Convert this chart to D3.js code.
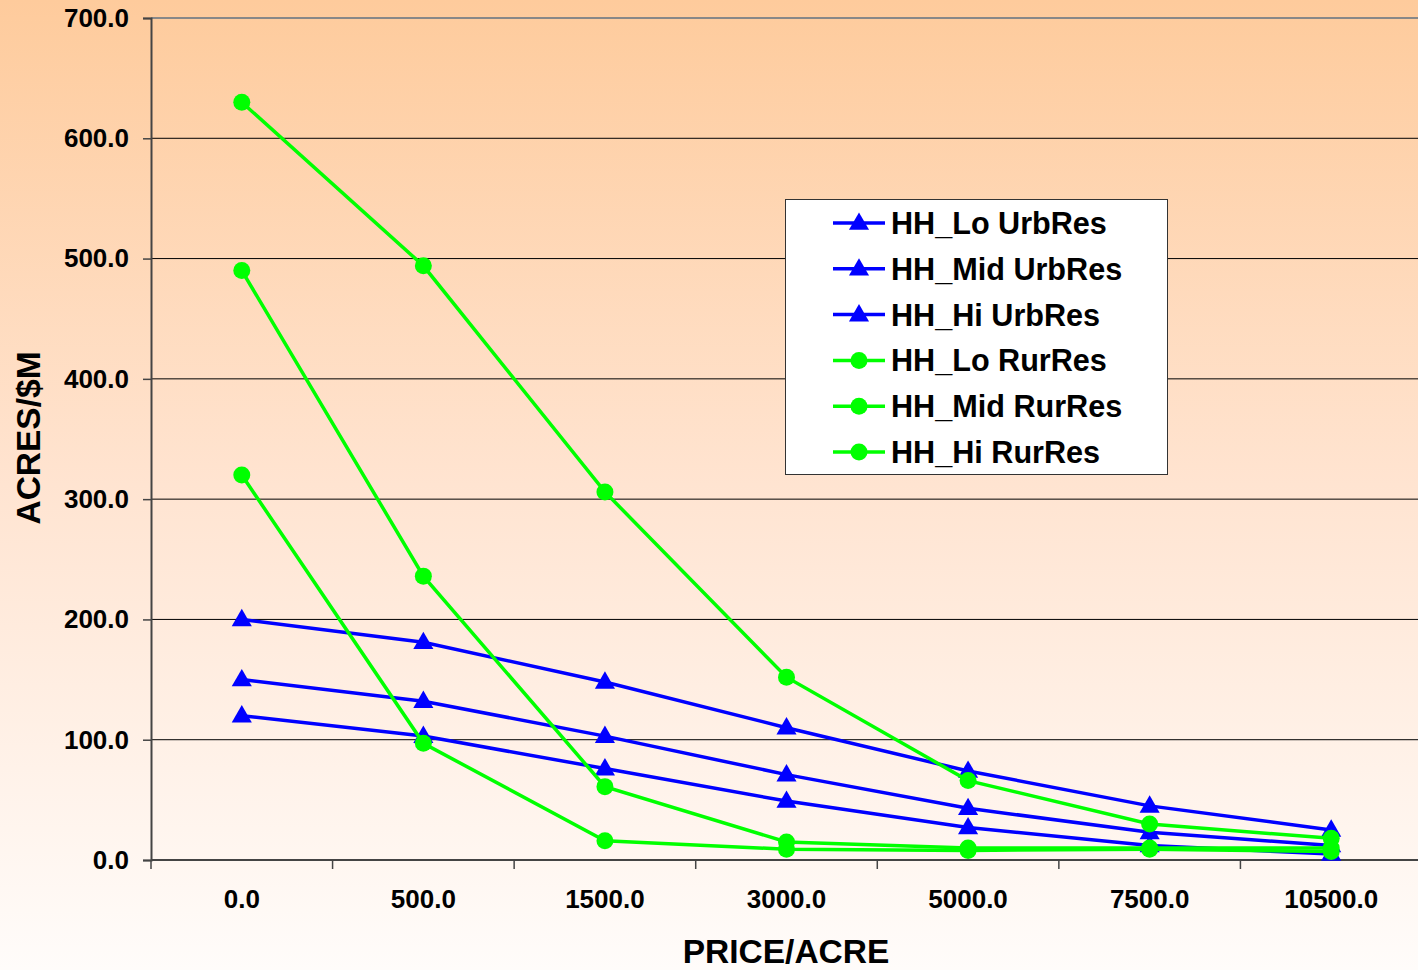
<!DOCTYPE html>
<html>
<head>
<meta charset="utf-8">
<script src="https://cdn.jsdelivr.net/npm/d3@7"></script>
<style>
  html, body { margin: 0; padding: 0; background: #fff; }
  svg { display: block; font-family: "Liberation Sans", Arial, sans-serif; }
</style>
</head>
<body>
<svg id="chart" width="1418" height="970"></svg>
<script>
// Price per acre categories (x axis)
const prices = ["0.0", "500.0", "1500.0", "3000.0", "5000.0", "7500.0", "10500.0"];
const yTicks = [0, 100, 200, 300, 400, 500, 600, 700];

// Acres per $M, urban residential households
const hhLoUrb  = [200, 181, 148, 110, 74, 45, 25];
const hhMidUrb = [150, 132, 103, 71, 43, 23, 12];
const hhHiUrb  = [120, 103, 76, 49, 27, 12, 5];

// Acres per $M, rural residential households
const hhLoRur  = [630, 494, 306, 152, 66, 30, 18];
const hhMidRur = [490, 236, 61, 15, 10, 10, 10];
const hhHiRur  = [320, 97, 16, 9, 8, 9, 7];

const seriesNames = ["HH_Lo UrbRes", "HH_Mid UrbRes", "HH_Hi UrbRes",
                     "HH_Lo RurRes", "HH_Mid RurRes", "HH_Hi RurRes"];
const seriesValues = [hhLoUrb, hhMidUrb, hhHiUrb, hhLoRur, hhMidRur, hhHiRur];
const seriesKinds = ["tri", "tri", "tri", "dot", "dot", "dot"];

const BLUE = "#0000ff", GREEN = "#00ff00";

const svg = d3.select("#chart");
const W = 1418, H = 970;

// page background gradient
const defs = svg.append("defs");
const grad = defs.append("linearGradient").attr("id", "bg")
  .attr("x1", 0).attr("y1", 0).attr("x2", 0).attr("y2", 1);
grad.append("stop").attr("offset", "0%").attr("stop-color", "#fecb9c");
grad.append("stop").attr("offset", "50%").attr("stop-color", "#ffe4d1");
grad.append("stop").attr("offset", "100%").attr("stop-color", "#fffcfa");
svg.append("rect").attr("width", W).attr("height", H).attr("fill", "url(#bg)");

const plot = { left: 151, top: 18, right: 1422, bottom: 860 };

const x = d3.scaleBand().domain(prices).range([plot.left, plot.right]);
const y = d3.scaleLinear().domain([0, 700]).range([plot.bottom, plot.top]);
const xc = d => x(d) + x.bandwidth() / 2;

// horizontal gridlines
svg.append("g").selectAll("line").data(yTicks.filter(v => v > 0 && v < 700)).join("line")
  .attr("x1", plot.left).attr("x2", W)
  .attr("y1", d => y(d)).attr("y2", d => y(d))
  .attr("stroke", "#000").attr("stroke-width", 1);
// top border of plot area
svg.append("line").attr("x1", plot.left).attr("x2", W)
  .attr("y1", y(700)).attr("y2", y(700))
  .attr("stroke", "#888").attr("stroke-width", 2);

// y axis
const yAxis = svg.append("g").attr("transform", `translate(${plot.left},0)`)
  .call(d3.axisLeft(y).tickValues(yTicks).tickFormat(d3.format(".1f")).tickSize(8).tickPadding(14));
yAxis.select(".domain").attr("stroke", "#444").attr("stroke-width", 2);
yAxis.selectAll(".tick line").attr("stroke", "#444").attr("stroke-width", 1.5);
yAxis.selectAll("text").attr("font-size", 26).attr("font-weight", "bold").attr("fill", "#000")
  .attr("font-family", "Liberation Sans, Arial, sans-serif");

// x axis: ticks at category boundaries
const xAxisG = svg.append("g").attr("transform", `translate(0,${plot.bottom})`);
xAxisG.append("line").attr("x1", plot.left).attr("x2", W)
  .attr("y1", 0).attr("y2", 0).attr("stroke", "#444").attr("stroke-width", 2);
const boundaries = prices.map(p => x(p)).concat([plot.right]);
xAxisG.selectAll("line.tk").data(boundaries).join("line").attr("class", "tk")
  .attr("x1", d => d).attr("x2", d => d).attr("y1", 0).attr("y2", 9)
  .attr("stroke", "#444").attr("stroke-width", 1.5);
xAxisG.selectAll("text").data(prices).join("text")
  .attr("x", d => xc(d)).attr("y", 48)
  .attr("text-anchor", "middle")
  .attr("font-size", 26).attr("font-weight", "bold").attr("fill", "#000")
  .text(d => d);

// axis titles
svg.append("text").attr("x", 786).attr("y", 963).attr("text-anchor", "middle")
  .attr("font-size", 33.5).attr("font-weight", "bold").text("PRICE/ACRE");
svg.append("text").attr("transform", "translate(40,438) rotate(-90)")
  .attr("text-anchor", "middle")
  .attr("font-size", 33.5).attr("font-weight", "bold").text("ACRES/$M");

const line = d3.line().x((d, i) => xc(prices[i])).y(d => y(d));
const triPath = d3.symbol().type(d3.symbolTriangle).size(175);

// series lines and markers
seriesValues.forEach((vals, si) => {
  const color = seriesKinds[si] === "tri" ? BLUE : GREEN;
  const g = svg.append("g");
  g.append("path").datum(vals).attr("d", line)
    .attr("fill", "none").attr("stroke", color).attr("stroke-width", 3.5);
  if (seriesKinds[si] === "tri") {
    g.selectAll("path.m").data(vals).join("path").attr("class", "m")
      .attr("d", triPath())
      .attr("transform", (d, i) => `translate(${xc(prices[i])},${y(d) + 1})`)
      .attr("fill", color);
  } else {
    g.selectAll("circle").data(vals).join("circle")
      .attr("cx", (d, i) => xc(prices[i])).attr("cy", d => y(d))
      .attr("r", 8.5).attr("fill", color);
  }
});

// legend
const lg = svg.append("g");
lg.append("rect").attr("x", 785.5).attr("y", 199.5).attr("width", 382).attr("height", 275)
  .attr("fill", "#fff").attr("stroke", "#333").attr("stroke-width", 1);
seriesNames.forEach((name, i) => {
  const cy = 223 + i * 45.8;
  const color = seriesKinds[i] === "tri" ? BLUE : GREEN;
  lg.append("line").attr("x1", 833).attr("x2", 885).attr("y1", cy).attr("y2", cy)
    .attr("stroke", color).attr("stroke-width", 3.5);
  if (seriesKinds[i] === "tri") {
    lg.append("path").attr("d", triPath()).attr("transform", `translate(859,${cy + 1})`).attr("fill", color);
  } else {
    lg.append("circle").attr("cx", 859).attr("cy", cy).attr("r", 8.5).attr("fill", color);
  }
  lg.append("text").attr("x", 891).attr("y", cy + 11)
    .attr("font-size", 30.6).attr("font-weight", "bold").attr("fill", "#000").text(name);
});
</script>
</body>
</html>
